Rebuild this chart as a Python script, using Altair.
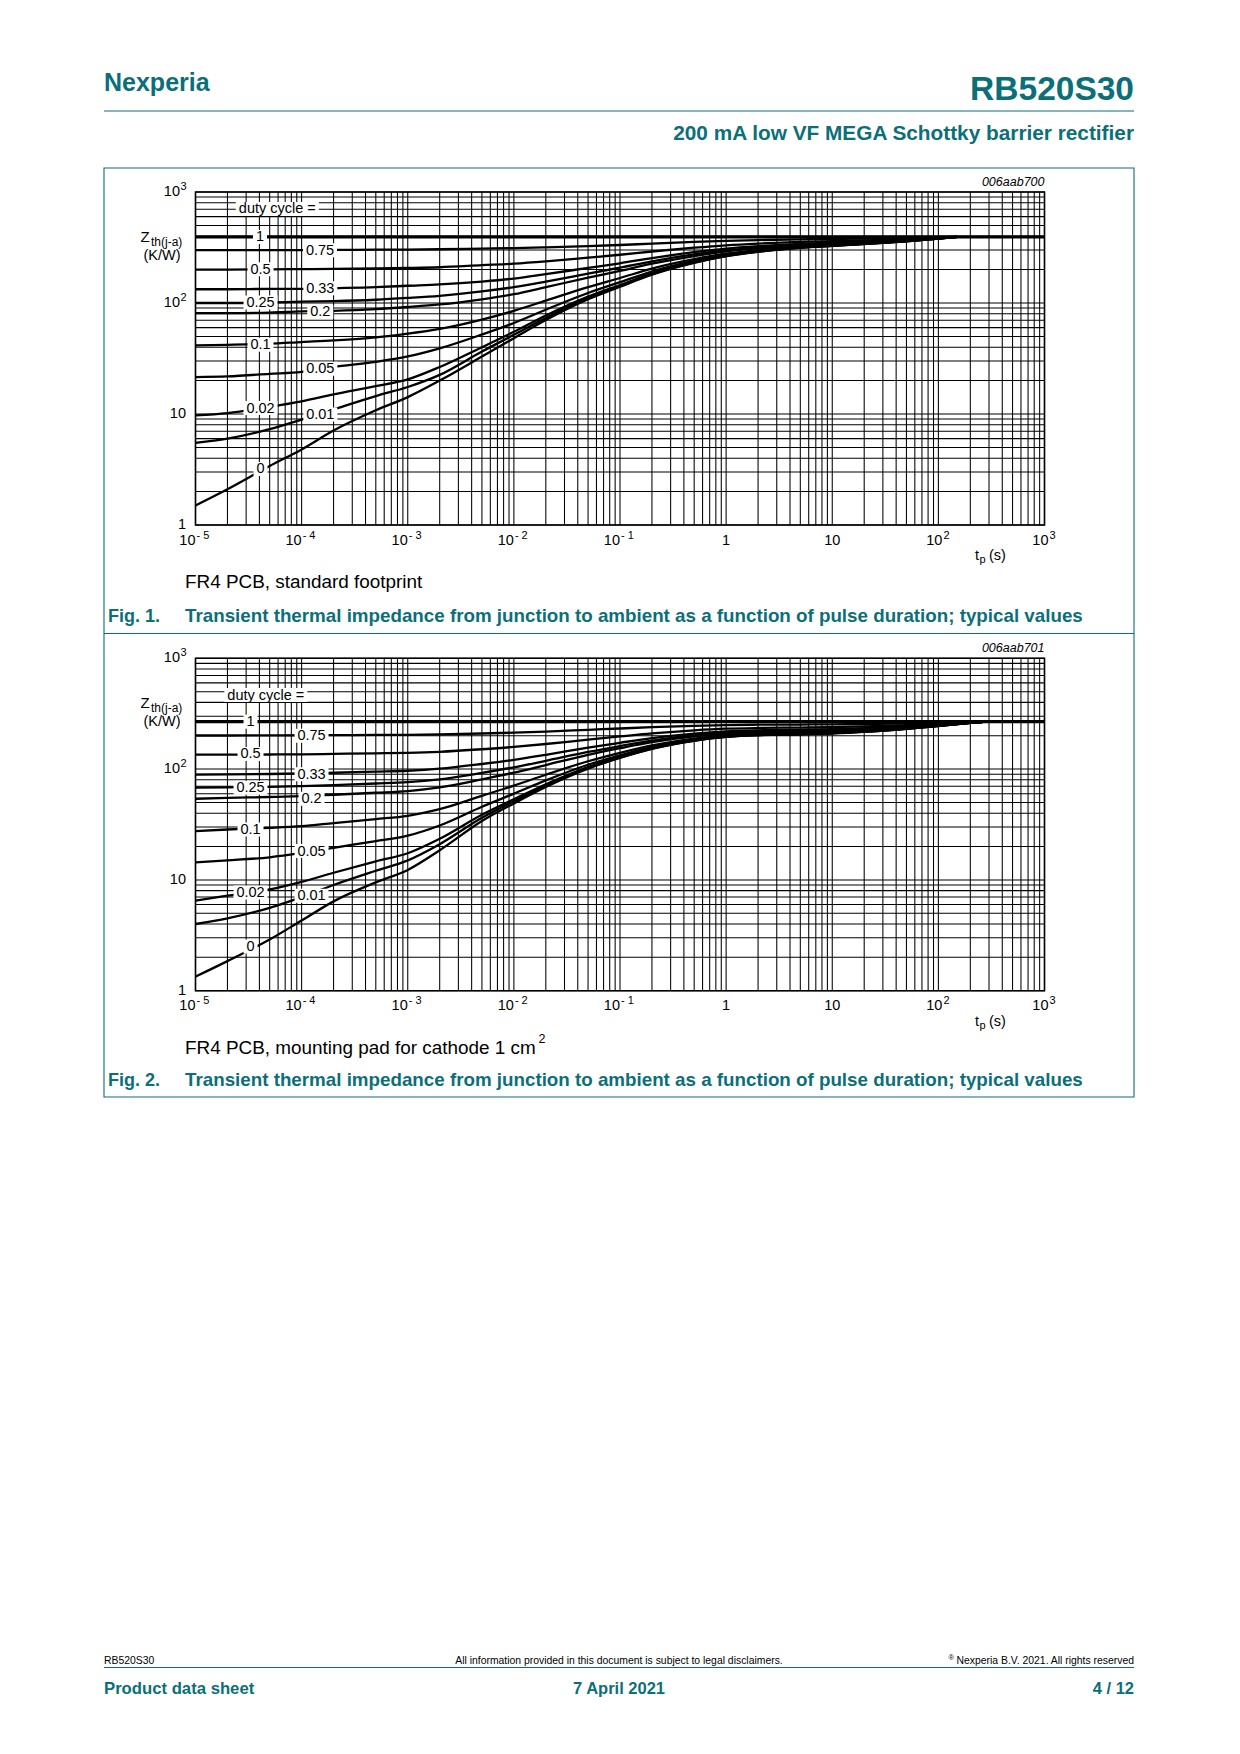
import altair as alt
import pandas as pd

# ---------------------------------------------------------------- data
DUTY = ["0", "0.01", "0.02", "0.05", "0.1", "0.2", "0.25", "0.33", "0.5", "0.75"]

# Fig. 1 (FR4 PCB, standard footprint)
TP1 = [1e-5, 2e-5, 5e-5, 1e-4, 2e-4, 5e-4, 1e-3, 2e-3, 5e-3, 1e-2, 2e-2, 5e-2,
       0.1, 0.2, 0.5, 1, 2, 5, 10, 20, 50, 100, 150]
F1_D0 = [1.5, 2.1, 3.4, 4.8, 7.1, 10.8, 14.2, 20.0, 32.9, 48.2, 70.2, 108, 140, 180, 230, 264, 289, 314, 327, 340, 360, 380, 394]
F1_D001 = [5.5, 6.0, 7.3, 8.9, 11, 14.5, 17.5, 22.5, 36.5, 51.7, 73.4, 111, 142.5, 182, 232, 265, 290, 315, 328, 340.5, 360, 380, 394]
F1_D002 = [9.7, 10.2, 11.6, 13, 15, 17.8, 20.5, 26.5, 40, 55, 77, 114, 145, 184, 233, 267, 291, 316, 328, 341, 361, 380, 394]
F1_D005 = [21.5, 21.8, 23, 24, 26.5, 29.5, 33, 39, 52, 66, 87, 123, 154, 192, 239, 271, 294, 318, 330, 343, 362, 381, 394]
F1_D01 = [41.5, 42, 43, 44.5, 46, 49, 53, 58.5, 71, 85, 105, 139, 168, 204, 248, 278, 300, 322, 334, 346, 364, 382, 394]
F1_D02 = [81, 81, 82, 84, 85, 88, 92, 97, 108, 120, 139, 169, 195, 226, 265, 292, 311, 330, 341, 351, 367, 383, 394]
F1_D025 = [100, 100, 101, 103, 104, 107, 111, 116, 127, 139, 156, 184, 208, 237, 274, 298, 316, 334, 344, 354, 369, 384, 394]
F1_D033 = [133, 133, 134, 134, 136, 139, 143, 147, 156, 166, 182, 207, 228, 254, 287, 309, 325, 341, 349, 358, 372, 385, 394]
F1_D05 = [200, 200, 201, 202, 203, 205, 207, 210, 219, 226, 237, 256, 272, 291, 315, 331, 343, 355, 361, 367, 377, 387, 394]
F1_D075 = [299, 299, 299, 300, 301, 302, 303, 305, 309, 312, 317, 325, 333, 343, 355, 363, 369, 375, 378, 381, 386, 391, 394]
F1_ONE_TP = [1e-5, 1e3]
F1_ONE_Z = [394, 394]

F1_LBL_TXT = ["duty cycle =", "1", "0.75", "0.5", "0.33", "0.25", "0.2", "0.1", "0.05", "0.02", "0.01", "0"]
F1_LBL_TP = [5.9e-5, 4.05e-5, 1.49e-4, 4.1e-5, 1.5e-4, 4.1e-5, 1.5e-4, 4.1e-5, 1.5e-4, 4.1e-5, 1.5e-4, 4.1e-5]
F1_LBL_Z = [703, 394, 299, 201, 136, 101, 83, 42, 25.5, 11.3, 9.9, 3.2]

# Fig. 2 (FR4 PCB, mounting pad for cathode 1 cm2)
TP2 = [1e-5, 2e-5, 5e-5, 1e-4, 2e-4, 5e-4, 1e-3, 2e-3, 5e-3, 1e-2, 2e-2, 5e-2,
       0.1, 0.2, 0.5, 1, 2, 5, 10, 20, 50, 100, 200, 280]
F2_D0 = [1.34, 1.85, 2.9, 4.3, 6.4, 9.5, 12.3, 18.5, 34, 49, 69, 101, 126, 152, 180, 195, 202, 206, 210, 217, 231, 245, 261, 268]
F2_D001 = [4.0, 4.5, 5.6, 7.0, 9.0, 12.1, 15, 21, 36.3, 51.2, 71, 102.7, 127.4, 153.2, 181, 195.7, 202.7, 206.6, 210.6, 217.5, 231.4, 245.2, 261, 268]
F2_D002 = [6.5, 7.2, 8.2, 9.6, 11.6, 14.7, 17.4, 23.5, 38.7, 53.4, 73, 104.3, 128.8, 154.3, 181.8, 196.5, 203.3, 207.2, 211.2, 218, 231.7, 245.5, 261.1, 268]
F2_D005 = [14.4, 15, 16, 17.5, 19.5, 22.4, 25.1, 31, 45.7, 60, 79, 109.4, 133.1, 157.8, 184.4, 198.7, 205.3, 209.1, 212.9, 219.6, 232.9, 246.2, 261.4, 268]
F2_D01 = [27.5, 28.5, 29.5, 30.6, 32.6, 35.4, 37.9, 43.5, 57.4, 70.9, 88.9, 117.7, 140.2, 163.6, 188.8, 202.3, 208.6, 212.2, 215.8, 222.1, 234.7, 247.3, 261.7, 268]
F2_D02 = [54, 55, 56, 57, 58.7, 61.2, 63.4, 68.4, 80.8, 92.8, 108.8, 134.4, 154.4, 175.2, 197.6, 209.6, 215.2, 218.4, 221.6, 227.2, 238.4, 249.6, 262.4, 268]
F2_D025 = [68, 68.5, 69, 70.2, 71.8, 74.1, 76.2, 80.9, 92.5, 103.8, 118.8, 142.8, 161.5, 181, 202, 213.3, 218.5, 221.5, 224.5, 229.8, 240.3, 250.8, 262.8, 268]
F2_D033 = [89.3, 89.6, 90.3, 91.3, 92.7, 94.8, 96.6, 100.8, 111.2, 121.2, 134.6, 156.1, 172.8, 190.2, 209, 219, 223.7, 226.4, 229.1, 233.8, 243.2, 252.6, 263.3, 268]
F2_D05 = [135, 135, 135.5, 136, 137.2, 138.8, 140.2, 143.3, 151, 158.5, 168.5, 184.5, 197, 210, 224, 231.5, 235, 237, 239, 242.5, 249.5, 256.5, 264.5, 268]
F2_D075 = [201, 201, 201.7, 202, 202.6, 203.4, 204, 205.6, 209.5, 213.3, 218.3, 226.3, 232.5, 239, 246, 249.8, 251.5, 252.5, 253.5, 255.3, 258.8, 262.3, 266.3, 268]
F2_ONE_TP = [1e-5, 1e3]
F2_ONE_Z = [268, 268]

F2_LBL_TXT = ["duty cycle =", "1", "0.75", "0.5", "0.33", "0.25", "0.2", "0.1", "0.05", "0.02", "0.01", "0"]
F2_LBL_TP = [4.6e-5, 3.3e-5, 1.24e-4, 3.3e-5, 1.24e-4, 3.3e-5, 1.24e-4, 3.3e-5, 1.24e-4, 3.3e-5, 1.24e-4, 3.3e-5]
F2_LBL_Z = [466, 268, 200, 137, 90, 68, 54, 28.5, 18.2, 7.7, 7.2, 2.5]

# axis tick labels
X_TICKS = [1e-5, 1e-4, 1e-3, 1e-2, 1e-1, 1, 10, 100, 1000]
X_BASE = ["10", "10", "10", "10", "10", "1", "10", "10", "10"]
X_EXP = ["- 5", "- 4", "- 3", "- 2", "- 1", "", "", "2", "3"]
Y_TICKS = [1, 10, 100, 1000]
Y_BASE = ["1", "10", "10", "10"]
Y_EXP = ["", "", "2", "3"]

# ---------------------------------------------------------------- style / layout
FONT = "Liberation Sans"
TEAL = "#0b6f79"
OFF = 8
W, H = 1224, 1720
XL, XR = 195.5, 1044.5
LBL_FS = 14.5


def P(v):
    return v - OFF


ONE = pd.DataFrame({"t": [""]})
layers = []


def txt(s, x, y, size, color="black", weight="normal", align="left",
        baseline="alphabetic", style="normal"):
    return alt.Chart(pd.DataFrame({"t": [s]})).mark_text(
        align=align, baseline=baseline, fontSize=size, font=FONT,
        fontWeight=weight, fontStyle=style, color=color
    ).encode(x=alt.value(P(x)), y=alt.value(P(y)), text="t:N")


def hline(x1, x2, y, color, sw):
    return alt.Chart(ONE).mark_rule(color=color, strokeWidth=sw).encode(
        x=alt.value(P(x1)), x2=alt.value(P(x2)), y=alt.value(P(y)))


def text_width(s, size):
    w = {".": 0.278, " ": 0.278, "=": 0.584, "l": 0.222, "t": 0.278, "y": 0.5, "c": 0.5}
    return sum(w.get(ch, 0.556) for ch in s) * size


# ---------------------------------------------------------------- page frame
layers.append(txt("Nexperia", 104, 91, 25, TEAL, "bold"))
layers.append(txt("RB520S30", 1134, 99.5, 33.5, TEAL, "bold", align="right"))
layers.append(hline(104, 1134, 111, TEAL, 1.2))
layers.append(txt("200 mA low VF MEGA Schottky barrier rectifier", 1134, 139.5, 20.8, TEAL, "bold", align="right"))

layers.append(alt.Chart(ONE).mark_rect(fillOpacity=0, stroke=TEAL, strokeWidth=1.1).encode(
    x=alt.value(P(104)), x2=alt.value(P(1134)), y=alt.value(P(168)), y2=alt.value(P(1097))))
layers.append(hline(104, 1134, 633.5, TEAL, 1.1))

layers.append(txt("RB520S30", 104, 1663.5, 10.4))
layers.append(txt("All information provided in this document is subject to legal disclaimers.", 619, 1663.5, 10.4, align="center"))
layers.append(txt("\u00ae", 954, 1660, 7.5, align="right"))
layers.append(txt("Nexperia B.V. 2021. All rights reserved", 1134, 1663.5, 10.4, align="right"))
layers.append(hline(104, 1134, 1667.5, TEAL, 1.2))
layers.append(txt("Product data sheet", 104, 1693.5, 16.7, TEAL, "bold"))
layers.append(txt("7 April 2021", 619, 1693.5, 16.5, TEAL, "bold", align="center"))
layers.append(txt("4 / 12", 1134, 1693.5, 16.5, TEAL, "bold", align="right"))


# ---------------------------------------------------------------- plots
def plot(tp, curves, one_tp, one_z, l_txt, l_tp, l_z, top, bottom, code, sub, fig_y, fig_no):
    xs = alt.Scale(type="log", domain=[1e-5, 1e3], range=[P(XL), P(XR)], nice=False)
    ys = alt.Scale(type="log", domain=[1, 1000], range=[P(bottom), P(top)], nice=False)
    X = lambda f: alt.X(f, scale=xs, axis=None)
    Y = lambda f: alt.Y(f, scale=ys, axis=None)
    out = []

    gx = pd.DataFrame({"v": [m * 10.0 ** e for e in range(-5, 3) for m in range(1, 10)] + [1000.0]})
    gy = pd.DataFrame({"v": [m * 10.0 ** e for e in range(0, 3) for m in range(1, 10)] + [1000.0]})
    out.append(alt.Chart(gx).mark_rule(color="black", strokeWidth=1.05).encode(
        x=X("v:Q"), y=alt.value(P(top)), y2=alt.value(P(bottom))))
    out.append(alt.Chart(gy).mark_rule(color="black", strokeWidth=1.05).encode(
        y=Y("v:Q"), x=alt.value(P(XL)), x2=alt.value(P(XR))))
    out.append(alt.Chart(ONE).mark_rect(fillOpacity=0, stroke="black", strokeWidth=1.6).encode(
        x=alt.value(P(XL)), x2=alt.value(P(XR)), y=alt.value(P(top)), y2=alt.value(P(bottom))))

    rows = []
    for d, vals in zip(DUTY, curves):
        for t, z in zip(tp, vals):
            rows.append({"tp": t, "z": z, "d": d})
    cdf = pd.DataFrame(rows)
    out.append(alt.Chart(cdf).mark_line(interpolate="monotone", color="black", strokeWidth=2.3,
                                        strokeJoin="round").encode(
        x=X("tp:Q"), y=Y("z:Q"), detail="d:N"))
    out.append(alt.Chart(pd.DataFrame({"tp": one_tp, "z": one_z})).mark_line(
        color="black", strokeWidth=3.2).encode(x=X("tp:Q"), y=Y("z:Q")))

    ldf = pd.DataFrame({"t": l_txt, "tp": l_tp, "z": l_z})
    ldf["w"] = [round(text_width(s, LBL_FS) + 6) for s in l_txt]
    for w in sorted(ldf["w"].unique()):
        out.append(alt.Chart(ldf[ldf["w"] == w]).mark_rect(
            width=int(w), height=14, align="center", baseline="middle", color="white").encode(
            x=X("tp:Q"), y=Y("z:Q")))
    out.append(alt.Chart(ldf).mark_text(font=FONT, fontSize=LBL_FS, align="center", baseline="middle",
                                        dy=0.5, color="black").encode(
        x=X("tp:Q"), y=Y("z:Q"), text="t:N"))

    # x tick labels
    xt = pd.DataFrame({"v": X_TICKS, "b": X_BASE, "e": X_EXP})
    ty = bottom + 15.5
    plain = xt[xt["e"] == ""]
    neg = xt[xt["e"].str.startswith("-")]
    pos = xt[(xt["e"] != "") & ~xt["e"].str.startswith("-")]
    out.append(alt.Chart(plain).mark_text(font=FONT, fontSize=14.5, align="center", baseline="middle").encode(
        x=X("v:Q"), y=alt.value(P(ty)), text="b:N"))
    out.append(alt.Chart(neg).mark_text(font=FONT, fontSize=14.5, align="right", baseline="middle", dx=0).encode(
        x=X("v:Q"), y=alt.value(P(ty)), text="b:N"))
    out.append(alt.Chart(neg).mark_text(font=FONT, fontSize=11, align="left", baseline="middle", dx=1, dy=-5).encode(
        x=X("v:Q"), y=alt.value(P(ty)), text="e:N"))
    out.append(alt.Chart(pos).mark_text(font=FONT, fontSize=14.5, align="right", baseline="middle", dx=4).encode(
        x=X("v:Q"), y=alt.value(P(ty)), text="b:N"))
    out.append(alt.Chart(pos).mark_text(font=FONT, fontSize=11, align="left", baseline="middle", dx=5, dy=-5).encode(
        x=X("v:Q"), y=alt.value(P(ty)), text="e:N"))

    # y tick labels
    yt = pd.DataFrame({"v": Y_TICKS, "b": Y_BASE, "e": Y_EXP})
    yp = yt[yt["e"] == ""]
    ye = yt[yt["e"] != ""]
    out.append(alt.Chart(yp).mark_text(font=FONT, fontSize=14.5, align="right", baseline="middle").encode(
        y=Y("v:Q"), x=alt.value(P(186)), text="b:N"))
    out.append(alt.Chart(ye).mark_text(font=FONT, fontSize=14.5, align="right", baseline="middle").encode(
        y=Y("v:Q"), x=alt.value(P(180)), text="b:N"))
    out.append(alt.Chart(ye).mark_text(font=FONT, fontSize=11, align="left", baseline="middle", dy=-5).encode(
        y=Y("v:Q"), x=alt.value(P(180.5)), text="e:N"))

    # axis titles
    out.append(txt("Z", 140.5, top + 50, 15))
    out.append(txt("th(j-a)", 151, top + 53.5, 12))
    out.append(txt("(K/W)", 162, top + 68, 14.5, align="center"))
    out.append(txt("t", 975, bottom + 35, 14.5))
    out.append(txt("p", 979.5, bottom + 38, 11))
    out.append(txt("(s)", 989, bottom + 35, 14.5))
    out.append(txt(code, XR, top - 10, 12.5, style="italic", align="right", baseline="middle"))

    # captions
    out.append(txt(sub, 185, bottom + 63, 18.9))
    out.append(txt("Fig. %d." % fig_no, 108, fig_y, 18, TEAL, "bold"))
    out.append(txt("Transient thermal impedance from junction to ambient as a function of pulse duration; typical values",
                   185, fig_y, 18.78, TEAL, "bold"))
    return out


F1 = [F1_D0, F1_D001, F1_D002, F1_D005, F1_D01, F1_D02, F1_D025, F1_D033, F1_D05, F1_D075]
F2 = [F2_D0, F2_D001, F2_D002, F2_D005, F2_D01, F2_D02, F2_D025, F2_D033, F2_D05, F2_D075]

layers += plot(TP1, F1, F1_ONE_TP, F1_ONE_Z, F1_LBL_TXT, F1_LBL_TP, F1_LBL_Z,
               192, 525, "006aab700", "FR4 PCB, standard footprint", 621.5, 1)
layers += plot(TP2, F2, F2_ONE_TP, F2_ONE_Z, F2_LBL_TXT, F2_LBL_TP, F2_LBL_Z,
               658.3, 990.7, "006aab701", "FR4 PCB, mounting pad for cathode 1 cm", 1085.5, 2)
layers.append(txt("2", 538.5, 1043, 12.5))

chart = alt.layer(*layers).resolve_scale(x="independent", y="independent").properties(
    width=W, height=H, padding=0, autosize=alt.AutoSizeParams(type="none")
).configure_view(stroke=None)

chart.save("out.html", embed_options={"renderer": "svg", "actions": False})
